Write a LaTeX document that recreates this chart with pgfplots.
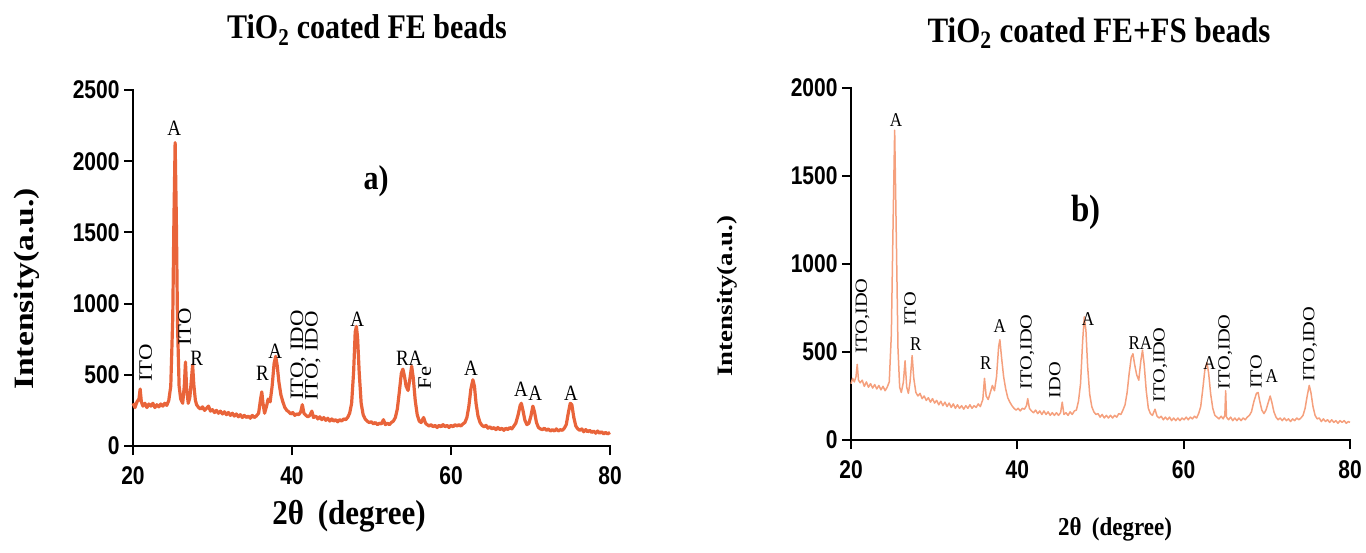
\documentclass[border=0pt]{standalone}
\usepackage{fontspec}
\setmainfont{Liberation Serif}
\setsansfont{Liberation Sans}
\usepackage{graphicx}
\usepackage{pgfplots}
\pgfplotsset{compat=1.18}
\usepackage{pgfplotstable}

\definecolor{colL}{RGB}{233,100,58}
\definecolor{colR}{RGB}{245,160,125}

\newcommand{\ann}[1]{\scalebox{1}[1.15]{#1}}
\newcommand{\rann}[1]{\scalebox{1}[1.2]{\rotatebox{90}{#1}}}

\pgfplotstableread{
x y
20.00 300
20.25 270
20.50 310
20.75 330
20.90 400
21.05 310
21.25 280
21.50 300
21.75 270
22.00 295
22.25 280
22.50 300
22.75 270
23.00 290
23.25 275
23.50 295
23.75 280
24.00 300
24.25 285
24.50 320
24.75 420
25.00 900
25.15 1600
25.30 2130
25.45 1600
25.60 850
25.80 420
26.00 330
26.25 300
26.45 420
26.60 590
26.75 400
26.95 300
27.15 340
27.35 470
27.50 570
27.65 430
27.85 320
28.00 290
28.25 270
28.50 260
28.75 275
29.00 250
29.25 265
29.50 280
29.75 245
30.00 255
30.25 235
30.50 250
30.75 230
31.00 245
31.25 225
31.50 240
31.75 220
32.00 235
32.25 215
32.50 230
32.75 210
33.00 225
33.25 205
33.50 220
33.75 200
34.00 215
34.25 200
34.50 210
34.75 195
35.00 215
35.25 200
35.50 210
35.80 230
36.05 330
36.20 380
36.35 300
36.55 230
36.80 280
37.00 330
37.25 310
37.50 420
37.75 580
37.95 630
38.15 560
38.35 450
38.60 360
38.85 310
39.10 270
39.35 250
39.60 240
39.85 225
40.10 235
40.35 215
40.60 225
40.85 220
41.10 240
41.30 290
41.50 230
41.75 215
42.00 205
42.25 215
42.50 245
42.70 200
43.00 210
43.25 190
43.50 205
43.75 185
44.00 200
44.25 180
44.50 195
44.75 175
45.00 190
45.25 175
45.50 185
45.75 170
46.00 185
46.25 175
46.50 190
46.75 185
47.00 200
47.25 230
47.50 300
47.75 520
47.95 800
48.10 840
48.25 760
48.45 520
48.70 300
48.95 220
49.20 190
49.45 175
49.70 165
50.00 170
50.25 155
50.50 165
50.75 150
51.00 160
51.25 155
51.50 185
51.75 150
52.00 160
52.25 150
52.50 165
52.75 175
53.00 200
53.25 260
53.50 380
53.75 510
53.95 540
54.15 490
54.35 420
54.60 390
54.85 480
55.05 560
55.25 480
55.50 320
55.75 220
56.00 175
56.25 165
56.55 200
56.80 160
57.00 150
57.25 140
57.50 150
57.75 135
58.00 145
58.25 130
58.50 145
58.75 135
59.00 150
59.25 135
59.50 145
59.75 130
60.00 145
60.25 135
60.50 150
60.75 140
61.00 150
61.25 140
61.50 155
61.75 165
62.00 200
62.25 280
62.50 400
62.75 465
62.95 420
63.15 300
63.40 210
63.65 165
63.90 145
64.15 135
64.40 145
64.65 125
64.90 135
65.15 120
65.40 130
65.65 115
65.90 130
66.15 115
66.40 125
66.65 110
66.90 125
67.15 115
67.40 130
67.65 120
67.90 140
68.15 160
68.45 220
68.70 285
68.85 300
69.05 250
69.30 180
69.55 150
69.80 160
70.05 210
70.30 280
70.50 240
70.75 165
71.00 130
71.25 120
71.50 115
71.75 125
72.00 110
72.25 120
72.50 105
72.75 115
73.00 105
73.25 120
73.50 105
73.75 115
74.00 110
74.25 125
74.50 150
74.75 230
75.00 300
75.20 290
75.45 200
75.70 140
75.95 120
76.20 110
76.45 120
76.70 100
76.95 115
77.20 100
77.45 110
77.70 95
77.95 105
78.20 90
78.45 105
78.70 90
78.95 100
79.20 85
79.45 95
79.70 85
80.00 95
}\dataL

\pgfplotstableread{
x y
20.00 320
20.20 350
20.40 330
20.60 360
20.75 430
20.90 340
21.10 325
21.35 340
21.60 305
21.85 330
22.10 300
22.35 320
22.60 295
22.85 315
23.10 290
23.35 310
23.60 285
23.85 305
24.10 280
24.35 300
24.60 330
24.85 600
25.05 1200
25.25 1760
25.45 1150
25.65 520
25.85 300
26.05 270
26.30 330
26.50 450
26.70 300
26.90 265
27.10 330
27.35 480
27.55 350
27.80 270
28.05 250
28.30 265
28.55 235
28.80 250
29.05 225
29.30 240
29.55 215
29.80 235
30.05 210
30.30 225
30.55 200
30.80 220
31.05 195
31.30 215
31.55 190
31.80 210
32.05 185
32.30 205
32.55 180
32.80 200
33.05 180
33.30 195
33.55 175
33.80 195
34.05 180
34.30 200
34.55 180
34.80 195
35.05 185
35.30 205
35.55 190
35.85 230
36.05 350
36.25 250
36.50 230
36.75 270
37.00 310
37.25 280
37.50 360
37.75 530
37.90 570
38.10 470
38.35 360
38.60 290
38.85 240
39.10 215
39.35 195
39.60 180
39.85 170
40.10 180
40.35 165
40.60 180
40.85 175
41.10 195
41.25 235
41.45 180
41.70 165
41.95 155
42.20 170
42.45 150
42.70 165
42.95 145
43.20 165
43.45 145
43.70 160
43.95 140
44.20 155
44.45 140
44.70 155
44.95 140
45.20 155
45.40 215
45.60 145
45.85 155
46.10 140
46.35 160
46.60 145
46.85 165
47.10 170
47.35 220
47.60 320
47.85 560
48.05 700
48.25 620
48.45 420
48.70 260
48.95 190
49.20 160
49.45 145
49.70 150
49.95 130
50.20 145
50.45 125
50.70 140
50.95 125
51.20 140
51.45 125
51.70 140
51.95 130
52.20 150
52.45 145
52.70 170
52.95 200
53.20 270
53.45 380
53.70 470
53.90 490
54.10 430
54.35 370
54.60 340
54.85 450
55.05 510
55.25 430
55.50 280
55.75 180
56.00 150
56.25 140
56.55 175
56.80 135
57.05 125
57.30 135
57.55 115
57.80 130
58.05 115
58.30 130
58.55 110
58.80 125
59.05 110
59.30 125
59.55 110
59.80 125
60.05 115
60.30 130
60.55 115
60.80 130
61.05 120
61.30 135
61.55 125
61.80 150
62.05 190
62.30 290
62.55 400
62.80 440
63.00 380
63.25 260
63.50 180
63.75 140
64.00 130
64.25 120
64.50 135
64.75 120
64.95 140
65.05 280
65.15 130
65.40 115
65.65 130
65.90 110
66.15 125
66.40 110
66.65 125
66.90 110
67.15 125
67.40 115
67.65 130
67.90 140
68.15 160
68.45 220
68.75 265
68.95 270
69.15 220
69.40 170
69.65 150
69.90 170
70.15 210
70.40 250
70.60 215
70.85 160
71.10 130
71.35 115
71.60 125
71.85 110
72.10 125
72.35 110
72.60 120
72.85 105
73.10 120
73.35 110
73.60 125
73.85 115
74.10 125
74.35 140
74.60 180
74.85 250
75.10 310
75.30 270
75.55 190
75.80 140
76.05 120
76.30 125
76.55 105
76.80 120
77.05 105
77.30 115
77.55 100
77.80 115
78.05 100
78.30 110
78.55 95
78.80 110
79.05 100
79.30 110
79.55 95
79.80 105
80.00 100
}\dataR

\tikzset{
  annL/.style={font=\fontsize{19}{19}\selectfont, inner sep=0pt},
  annR/.style={font=\fontsize{17}{17}\selectfont, inner sep=0pt},
}

\pgfplotsset{prism/.style={
  scale only axis, anchor=south west,
  axis lines*=left,
  axis line style={line width=2.6pt, line cap=rect},
  tick style={line width=2pt, black},
  major tick length=9pt, tick align=outside,
  xmin=20, xmax=80, xtick={20,40,60,80}, ymin=0,
  ticklabel style={font=\sffamily\bfseries\fontsize{21}{21}\selectfont},
  xticklabel={\scalebox{1}[1.22]{\pgfmathprintnumber{\tick}}},
  yticklabel={\scalebox{1}[1.22]{\pgfmathprintnumber{\tick}}},
  xticklabel style={yshift=-8pt},
  yticklabel style={xshift=-1pt},
  /pgf/number format/assume math mode=true,
  /pgf/number format/1000 sep={},
  clip=false,
}}

\begin{document}
\begin{tikzpicture}
\useasboundingbox (0,0) rectangle (1366pt,552pt);

% ---------- panel a ----------
\begin{axis}[prism, at={(133pt,106pt)}, width=477pt, height=356pt,
  ymax=2500, ytick={0,500,1000,1500,2000,2500}]
\addplot[colL, line width=3.2pt, line join=round] table[x=x,y=y] {\dataL};
\node[annL] at (axis cs:21.6,584) {\rann{ITO}};
\node[annL] at (axis cs:25.2,2230) {\ann{A}};
\node[annL] at (axis cs:26.5,835) {\rann{ITO}};
\node[annL] at (axis cs:28.0,617) {\ann{R}};
\node[annL] at (axis cs:36.3,512) {\ann{R}};
\node[annL] at (axis cs:37.9,666) {\ann{A}};
\node[annL] at (axis cs:40.8,638) {\rann{ITO, IDO}};
\node[annL] at (axis cs:42.6,631) {\rann{ITO, IDO}};
\node[annL] at (axis cs:48.2,890) {\ann{A}};
\node[annL] at (axis cs:54.75,617) {\ann{RA}};
\node[annL] at (axis cs:56.7,480) {\rann{Fe}};
\node[annL] at (axis cs:62.5,547) {\ann{A}};
\node[annL] at (axis cs:68.8,400) {\ann{A}};
\node[annL] at (axis cs:70.6,372) {\ann{A}};
\node[annL] at (axis cs:75.1,372) {\ann{A}};
\end{axis}

% ---------- panel b ----------
\begin{axis}[prism, at={(851pt,112pt)}, width=499pt, height=352pt,
  ymax=2000, ytick={0,500,1000,1500,2000}]
\addplot[colR, line width=1.5pt, line join=round] table[x=x,y=y] {\dataR};
\node[annR] at (axis cs:21.4,705) {\rann{ITO,IDO}};
\node[annR] at (axis cs:25.4,1818) {\ann{A}};
\node[annR] at (axis cs:27.1,744) {\rann{ITO}};
\node[annR] at (axis cs:27.8,545) {\ann{R}};
\node[annR] at (axis cs:36.2,437) {\ann{R}};
\node[annR] at (axis cs:37.9,648) {\ann{A}};
\node[annR] at (axis cs:41.2,500) {\rann{ITO,IDO}};
\node[annR] at (axis cs:44.5,340) {\rann{IDO}};
\node[annR] at (axis cs:48.5,688) {\ann{A}};
\node[annR] at (axis cs:54.8,551) {\ann{RA}};
\node[annR] at (axis cs:57.2,426) {\rann{ITO,IDO}};
\node[annR] at (axis cs:63.1,437) {\ann{A}};
\node[annR] at (axis cs:65.0,500) {\rann{ITO,IDO}};
\node[annR] at (axis cs:68.7,386) {\rann{ITO}};
\node[annR] at (axis cs:70.6,364) {\ann{A}};
\node[annR] at (axis cs:75.2,545) {\rann{ITO,IDO}};
\end{axis}

% ---------- titles and labels ----------
\node[font=\bfseries\fontsize{30}{30}\selectfont] at (367pt,522pt)
  {\scalebox{1}[1.15]{TiO\textsubscript{2} coated FE beads}};
\node[font=\bfseries\fontsize{31}{31}\selectfont] at (1099pt,519pt)
  {\scalebox{1}[1.15]{TiO\textsubscript{2} coated FE+FS beads}};
\node[font=\bfseries\fontsize{30}{30}\selectfont] at (376pt,371pt)
  {\scalebox{1}[1.15]{a)}};
\node[font=\bfseries\fontsize{33}{33}\selectfont] at (1086pt,340pt)
  {\scalebox{1}[1.15]{b)}};
\node[font=\bfseries\fontsize{31}{31}\selectfont] at (349pt,36pt)
  {\scalebox{1}[1.12]{2θ\hspace{0.45em}(degree)}};
\node[font=\bfseries\fontsize{28}{28}\selectfont] at (27pt,263pt)
  {\scalebox{1}[1.2]{\rotatebox{90}{Intensity(a.u.)}}};
\node[font=\bfseries\fontsize{23}{23}\selectfont] at (1115pt,23pt)
  {\scalebox{1}[1.12]{2θ\hspace{0.45em}(degree)}};
\node[font=\bfseries\fontsize{22}{22}\selectfont] at (727pt,256pt)
  {\scalebox{1}[1.22]{\rotatebox{90}{Intensity(a.u.)}}};
\end{tikzpicture}
\end{document}
